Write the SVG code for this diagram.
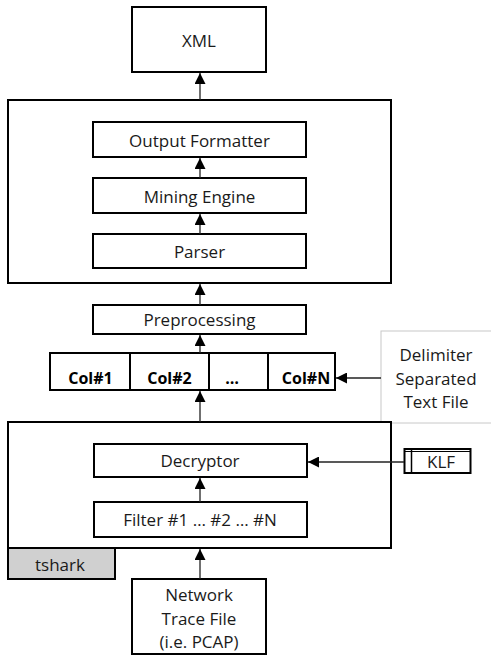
<svg xmlns="http://www.w3.org/2000/svg" width="491" height="656" viewBox="0 0 491 656">
<style>
.box{fill:#fff;stroke:#000;stroke-width:2}
.t{font-family:"Open Sans","Liberation Sans",sans-serif;font-size:17px;fill:#1a1a1a;text-anchor:middle}
.b{font-weight:bold;font-size:16px;fill:#000}
.c{stroke:#222;stroke-width:1.3;fill:none}
</style>
<defs>
<marker id="ah" viewBox="0 0 10 10" markerWidth="11" markerHeight="11" markerUnits="userSpaceOnUse" refX="10" refY="5" orient="auto">
<path d="M0,0 L10,5 L0,10 z" fill="#000"/>
</marker>
</defs>
<rect width="491" height="656" fill="#fff"/>

<g id="xml"><rect class="box" x="132" y="7" width="134" height="65"/><text class="t" x="199" y="46.5">XML</text></g>

<g id="analyzer"><rect class="box" x="8" y="100" width="383" height="183"/></g>
<g id="output-formatter"><rect class="box" x="93" y="122" width="213" height="35"/><text class="t" x="199.5" y="146.5">Output Formatter</text></g>
<g id="mining-engine"><rect class="box" x="93" y="178" width="213" height="35"/><text class="t" x="199.5" y="202.5">Mining Engine</text></g>
<g id="parser"><rect class="box" x="93" y="234" width="213" height="34"/><text class="t" x="199.5" y="258">Parser</text></g>

<g id="preprocessing"><rect class="box" x="93" y="305" width="213" height="29"/><text class="t" x="199.5" y="326">Preprocessing</text></g>

<g id="columns">
<rect class="box" x="50" y="353" width="285" height="37"/>
<line class="box" x1="130" y1="353" x2="130" y2="390"/>
<line class="box" x1="209" y1="353" x2="209" y2="390"/>
<line class="box" x1="268" y1="353" x2="268" y2="390"/>
<text class="t b" x="90.5" y="384">Col#1</text>
<text class="t b" x="169.5" y="384">Col#2</text>
<text class="t b" x="232" y="384">…</text>
<text class="t b" x="306" y="384">Col#N</text>
</g>

<g id="delimiter-file">
<rect x="381" y="331" width="120" height="92" fill="#fff" stroke="#c8c8c8" stroke-width="1"/>
<text class="t" x="436" y="361">Delimiter</text>
<text class="t" x="436" y="384.5">Separated</text>
<text class="t" x="436" y="408">Text File</text>
</g>

<g id="tshark">
<rect class="box" x="8" y="422" width="383" height="126"/>
<rect x="8" y="548" width="107" height="31" fill="#d0d0d0" stroke="#000" stroke-width="2"/>
<text class="t" x="60" y="570.5">tshark</text>
</g>
<g id="decryptor"><rect class="box" x="94" y="444" width="213" height="33"/><text class="t" x="200" y="467">Decryptor</text></g>
<g id="filter"><rect class="box" x="94" y="502" width="213" height="35"/><text class="t" x="200" y="526">Filter #1 … #2 … #N</text></g>

<g id="klf">
<rect class="box" x="404.5" y="449" width="66" height="24"/>
<line x1="411.5" y1="449" x2="411.5" y2="473" stroke="#000" stroke-width="1.5"/>
<line x1="404.5" y1="451.5" x2="470.5" y2="451.5" stroke="#000" stroke-width="1"/>
<text class="t" x="441" y="468">KLF</text>
</g>

<g id="network-trace">
<rect class="box" x="132" y="579" width="134" height="75"/>
<text class="t" x="199" y="601">Network</text>
<text class="t" x="199" y="625">Trace File</text>
<text class="t" x="199" y="648">(i.e. PCAP)</text>
</g>

<g id="connectors">
<line class="c" x1="200" y1="100" x2="200" y2="73" marker-end="url(#ah)"/>
<line class="c" x1="200" y1="178" x2="200" y2="158" marker-end="url(#ah)"/>
<line class="c" x1="200" y1="234" x2="200" y2="214" marker-end="url(#ah)"/>
<line class="c" x1="200" y1="305" x2="200" y2="284" marker-end="url(#ah)"/>
<line class="c" x1="200" y1="353" x2="200" y2="335" marker-end="url(#ah)"/>
<line class="c" x1="200" y1="422" x2="200" y2="391" marker-end="url(#ah)"/>
<line class="c" x1="200" y1="502" x2="200" y2="478" marker-end="url(#ah)"/>
<line class="c" x1="200" y1="579" x2="200" y2="549" marker-end="url(#ah)"/>
<line class="c" x1="381" y1="378" x2="336" y2="378" marker-end="url(#ah)"/>
<line class="c" x1="404" y1="462" x2="308" y2="462" marker-end="url(#ah)"/>
</g>
</svg>
